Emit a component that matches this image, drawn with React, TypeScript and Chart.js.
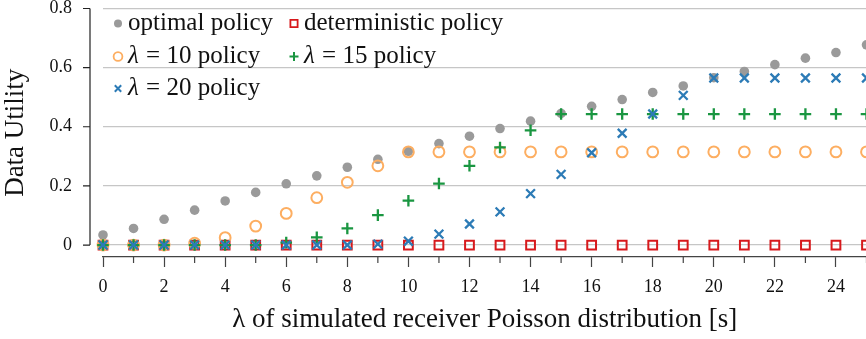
import React, { useEffect, useRef } from 'react';
import { Chart, registerables } from 'chart.js';

Chart.register(...registerables);

// λ of the simulated receiver Poisson distribution [s]
const lambdaValues = [0, 1, 2, 3, 4, 5, 6, 7, 8, 9, 10, 11, 12, 13, 14, 15, 16, 17, 18, 19, 20, 21, 22, 23, 24, 25];

const optimalPolicy = [
  0.034, 0.056, 0.087, 0.118, 0.149, 0.178, 0.207, 0.234, 0.263, 0.29, 0.317, 0.343, 0.368,
  0.394, 0.419, 0.445, 0.469, 0.492, 0.516, 0.538, 0.566, 0.587, 0.61, 0.632, 0.651, 0.677,
];
const deterministicPolicy = [
  0, 0, 0, 0, 0, 0, 0, 0, 0, 0, 0, 0, 0,
  0, 0, 0, 0, 0, 0, 0, 0, 0, 0, 0, 0, 0,
];
const lambda10Policy = [
  0, 0, 0, 0.006, 0.025, 0.064, 0.107, 0.16, 0.212, 0.268, 0.315, 0.315, 0.315,
  0.315, 0.315, 0.315, 0.315, 0.315, 0.315, 0.315, 0.315, 0.315, 0.315, 0.315, 0.315, 0.315,
];
const lambda15Policy = [
  0, 0, 0, 0, 0, 0, 0.008, 0.026, 0.056, 0.101, 0.15, 0.208, 0.268,
  0.33, 0.388, 0.443, 0.443, 0.443, 0.443, 0.443, 0.443, 0.443, 0.443, 0.443, 0.443, 0.443,
];
const lambda20Policy = [
  0, 0, 0, 0, 0, 0, 0, 0, 0, 0.003, 0.013, 0.037, 0.071,
  0.112, 0.174, 0.239, 0.312, 0.378, 0.443, 0.506, 0.565, 0.565, 0.565, 0.565, 0.565, 0.565,
];

const seriesLabels = ['optimal policy', 'deterministic policy', 'λ = 10 policy', 'λ = 15 policy', 'λ = 20 policy'];

const yTickValues = [0, 0.2, 0.4, 0.6, 0.8];
const xLabelStep = 2;

const SERIF = '"Liberation Serif", "Times New Roman", serif';

const GRAY = '#9a9a9a';
const RED = '#d7191c';
const ORANGE = '#fdae61';
const GREEN = '#1a9641';
const BLUE = '#2c7bb6';

type MarkerStyle = {
  shape: 'disc' | 'ring' | 'square' | 'plus' | 'cross';
  color: string;
  r: number;
  width: number;
};

function drawMarker(ctx: CanvasRenderingContext2D, m: MarkerStyle, x: number, y: number) {
  ctx.save();
  ctx.strokeStyle = m.color;
  ctx.fillStyle = m.color;
  ctx.lineWidth = Math.max(m.width, 1);
  ctx.beginPath();
  if (m.shape === 'disc') {
    ctx.arc(x, y, m.r, 0, Math.PI * 2);
    ctx.fill();
  } else if (m.shape === 'ring') {
    ctx.arc(x, y, m.r, 0, Math.PI * 2);
    ctx.stroke();
  } else if (m.shape === 'square') {
    ctx.rect(x - m.r, y - m.r, m.r * 2, m.r * 2);
    ctx.stroke();
  } else if (m.shape === 'plus') {
    ctx.moveTo(x - m.r, y);
    ctx.lineTo(x + m.r, y);
    ctx.moveTo(x, y - m.r);
    ctx.lineTo(x, y + m.r);
    ctx.stroke();
  } else {
    ctx.moveTo(x - m.r, y - m.r);
    ctx.lineTo(x + m.r, y + m.r);
    ctx.moveTo(x - m.r, y + m.r);
    ctx.lineTo(x + m.r, y - m.r);
    ctx.stroke();
  }
  ctx.restore();
}

const legendMarkers: MarkerStyle[] = [
  { shape: 'disc', color: GRAY, r: 4, width: 0 },
  { shape: 'square', color: RED, r: 3.6, width: 1.8 },
  { shape: 'ring', color: ORANGE, r: 4.4, width: 1.8 },
  { shape: 'plus', color: GREEN, r: 4.5, width: 2 },
  { shape: 'cross', color: BLUE, r: 3.2, width: 2 },
];

// grid placement of the legend entries: [column, row]
const legendSlots: [number, number][] = [
  [0, 0],
  [1, 0],
  [0, 1],
  [1, 1],
  [0, 2],
];

const legendPlugin = {
  id: 'insideLegend',
  afterDraw(chart: Chart) {
    const { ctx, chartArea } = chart;
    const colX = [chartArea.left + 15, chartArea.left + 191];
    const rowY = [chartArea.top + 15, chartArea.top + 48, chartArea.top + 80];
    ctx.save();
    ctx.textBaseline = 'middle';
    ctx.textAlign = 'left';
    ctx.fillStyle = '#111';
    seriesLabels.forEach((label, i) => {
      const [c, r] = legendSlots[i];
      const mx = colX[c];
      const my = rowY[r];
      drawMarker(ctx, legendMarkers[i], mx, my);
      let tx = mx + 10;
      if (label.startsWith('λ')) {
        ctx.font = `italic 25px ${SERIF}`;
        ctx.fillText('λ', tx, my);
        tx += ctx.measureText('λ').width + 1;
        ctx.font = `25px ${SERIF}`;
        ctx.fillText(label.slice(1), tx, my);
      } else {
        ctx.font = `25px ${SERIF}`;
        ctx.fillText(label, tx, my);
      }
    });
    ctx.restore();
  },
};

// The y spine sits a little left of the plot; odd λ values get short tick marks
const spinePlugin = {
  id: 'offsetSpines',
  afterDraw(chart: Chart) {
    const { ctx, chartArea } = chart;
    const xs = chart.scales.x;
    const ys = chart.scales.y;
    ctx.save();
    const sx = chartArea.left - 13;
    ctx.strokeStyle = '#222';
    ctx.lineWidth = 1.2;
    ctx.beginPath();
    ctx.moveTo(sx, ys.getPixelForValue(yTickValues[yTickValues.length - 1]));
    ctx.lineTo(sx, ys.getPixelForValue(yTickValues[0]));
    yTickValues.forEach((v) => {
      const py = ys.getPixelForValue(v);
      ctx.moveTo(sx - 7, py);
      ctx.lineTo(sx, py);
    });
    ctx.stroke();

    ctx.strokeStyle = '#444';
    ctx.lineWidth = 1.2;
    ctx.beginPath();
    lambdaValues.forEach((v) => {
      if (v % xLabelStep === 0) return;
      const px = xs.getPixelForValue(v);
      ctx.moveTo(px, chartArea.bottom);
      ctx.lineTo(px, chartArea.bottom + 6);
    });
    ctx.stroke();
    ctx.restore();
  },
};

function toPoints(values: number[]) {
  return lambdaValues.map((x, i) => ({ x, y: values[i] }));
}

export default function App() {
  const canvasRef = useRef<HTMLCanvasElement | null>(null);

  useEffect(() => {
    if (!canvasRef.current) return;
    const chart = new Chart(canvasRef.current, {
      type: 'scatter',
      data: {
        datasets: [
          {
            label: seriesLabels[0],
            data: toPoints(optimalPolicy),
            pointStyle: 'circle',
            pointRadius: 4.8,
            pointBorderWidth: 0,
            pointBackgroundColor: GRAY,
            pointBorderColor: GRAY,
            order: 5,
            clip: false,
          },
          {
            label: seriesLabels[1],
            data: toPoints(deterministicPolicy),
            pointStyle: 'rect',
            pointRadius: 6.2,
            pointBorderWidth: 2,
            pointBackgroundColor: 'rgba(0,0,0,0)',
            pointBorderColor: RED,
            order: 4,
            clip: false,
          },
          {
            label: seriesLabels[2],
            data: toPoints(lambda10Policy),
            pointStyle: 'circle',
            pointRadius: 5.4,
            pointBorderWidth: 2,
            pointBackgroundColor: 'rgba(0,0,0,0)',
            pointBorderColor: ORANGE,
            order: 3,
            clip: false,
          },
          {
            label: seriesLabels[3],
            data: toPoints(lambda15Policy),
            pointStyle: 'cross',
            pointRadius: 5.8,
            pointBorderWidth: 2.3,
            pointBorderColor: GREEN,
            pointBackgroundColor: GREEN,
            order: 2,
            clip: false,
          },
          {
            label: seriesLabels[4],
            data: toPoints(lambda20Policy),
            pointStyle: 'crossRot',
            pointRadius: 6.2,
            pointBorderWidth: 2.3,
            pointBorderColor: BLUE,
            pointBackgroundColor: BLUE,
            order: 1,
            clip: false,
          },
        ],
      },
      options: {
        animation: false,
        responsive: true,
        maintainAspectRatio: false,
        layout: { padding: { top: 8, right: 13.5, bottom: 0, left: 0 } },
        plugins: {
          legend: { display: false },
          tooltip: { enabled: false },
        },
        scales: {
          x: {
            type: 'linear',
            min: 0,
            max: 25,
            bounds: 'data',
            afterBuildTicks: (scale: any) => {
              scale.ticks = lambdaValues
                .filter((v) => v % xLabelStep === 0)
                .map((value) => ({ value }));
            },
            afterFit: (scale: any) => {
              scale.height = 82;
              scale.paddingLeft = 0;
              scale.paddingRight = 0;
            },
            grid: {
              display: true,
              drawOnChartArea: false,
              drawTicks: true,
              tickLength: 10,
              tickColor: '#444',
              tickWidth: 1.2,
            },
            border: { display: true, color: '#444', width: 1.2 },
            ticks: {
              autoSkip: false,
              maxRotation: 0,
              padding: 9,
              color: '#111',
              font: { family: SERIF, size: 18 },
              callback: (v: any) => String(v),
            },
            title: {
              display: true,
              text: 'λ of simulated receiver Poisson distribution [s]',
              color: '#111',
              font: { family: SERIF, size: 27 },
              padding: { top: 0, bottom: 3 },
            },
          },
          y: {
            type: 'linear',
            min: -0.0405,
            max: 0.8,
            bounds: 'data',
            afterBuildTicks: (scale: any) => {
              scale.ticks = yTickValues.map((value) => ({ value }));
            },
            afterFit: (scale: any) => {
              scale.width = 103;
              scale.paddingTop = 0;
              scale.paddingBottom = 0;
            },
            grid: { color: '#c6c6c6', lineWidth: 1.2, drawTicks: false },
            border: { display: false },
            ticks: {
              padding: 31,
              color: '#111',
              font: { family: SERIF, size: 18 },
              callback: (v: any) => String(v),
            },
            title: {
              display: true,
              text: 'Data Utility',
              color: '#111',
              font: { family: SERIF, size: 27 },
              padding: { top: 0, bottom: 0 },
            },
          },
        },
      },
      plugins: [legendPlugin, spinePlugin],
    });
    return () => chart.destroy();
  }, []);

  return (
    <div style={{ position: 'fixed', left: 0, top: 0, width: 880, height: 339, background: '#fff' }}>
      <canvas ref={canvasRef} />
    </div>
  );
}
